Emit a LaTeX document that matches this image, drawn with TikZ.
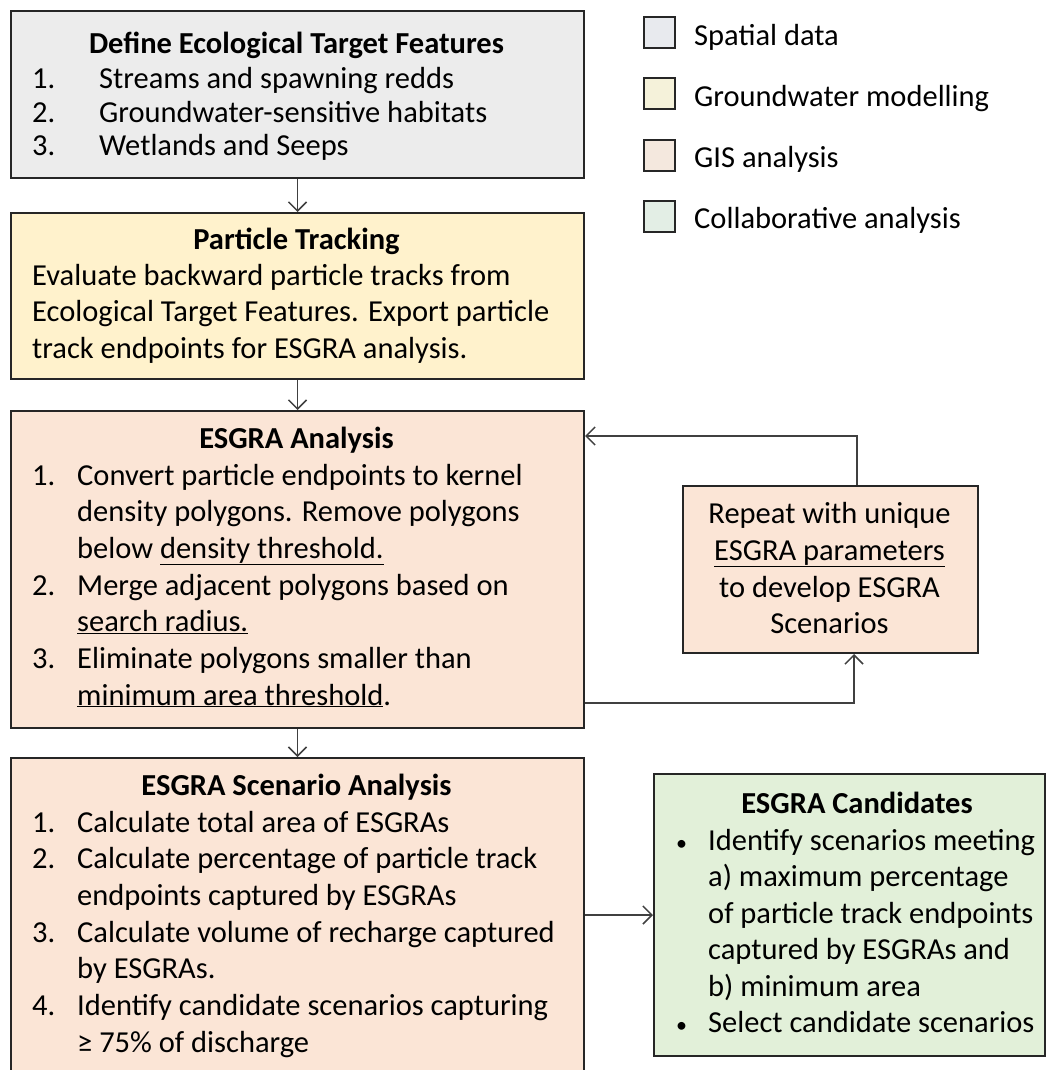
\documentclass[tikz,border=0pt]{standalone}
\usepackage{fontspec}
\setmainfont{Carlito}
\usetikzlibrary{arrows.meta}
\definecolor{boxgray}{HTML}{ECECEC}
\definecolor{boxyellow}{HTML}{FFF2CC}
\definecolor{boxpeach}{HTML}{FBE5D6}
\definecolor{boxgreen}{HTML}{E2F0D9}
\definecolor{legA}{HTML}{E8EAEE}
\definecolor{legB}{HTML}{F5F2DA}
\definecolor{legC}{HTML}{F4E8DE}
\definecolor{legD}{HTML}{E3EEE5}
\definecolor{linegray}{HTML}{404040}
\tikzset{
  box/.style={draw=black!85, line width=2pt, inner sep=0pt, anchor=north west},
  legsq/.style={draw=black!85, line width=2pt, inner sep=0pt, minimum size=31pt},
  txt/.style={inner sep=0pt, anchor=base west, font=\fontsize{30.5}{36.7}\selectfont},
  bul/.style={inner sep=0pt, anchor=base west, font=\fontsize{22}{36.7}\selectfont},
  ttl/.style={inner sep=0pt, anchor=base, font=\fontsize{30.5}{36.7}\selectfont\bfseries},
  ctr/.style={inner sep=0pt, anchor=base, font=\fontsize{30.5}{36.7}\selectfont},
  conn/.style={draw=linegray, line width=1.5pt, -{Straight Barb[length=9pt,width=18pt]}}
}
\begin{document}
\begin{tikzpicture}[x=1pt,y=-1pt]
\fill[white] (0,0) rectangle (1048,1070);
\useasboundingbox (0,0) rectangle (1048,1070);

% boxes
\node[box, fill=boxgray, minimum width=573pt, minimum height=167pt] (b1) at (10,10) {};
\node[box, fill=boxyellow, minimum width=573pt, minimum height=166pt] (b2) at (10,212) {};
\node[box, fill=boxpeach, minimum width=573pt, minimum height=317pt] (b3) at (10,410) {};
\node[box, fill=boxpeach, minimum width=573pt, minimum height=330pt] (b4) at (10,757) {};
\node[box, fill=boxpeach, minimum width=295pt, minimum height=167pt] (rep) at (682,485) {};
\node[box, fill=boxgreen, minimum width=391pt, minimum height=282pt] (cand) at (653,773) {};

% box 1 text
\node[ttl] (t1) at (296.5,54) {Define Ecological Target Features};
\node[txt] (n11) at (32,89) {1.};
\node[txt] (l11) at (99,89) {Streams and spawning redds};
\node[txt] (n12) at (32,122) {2.};
\node[txt] (l12) at (99,122) {Groundwater-sensitive habitats};
\node[txt] (n13) at (32,155) {3.};
\node[txt] (l13) at (99,155) {Wetlands and Seeps};

% box 2 text
\node[ttl] (t2) at (296.5,249) {Particle Tracking};
\node[txt] (l21) at (32,285) {Evaluate backward particle tracks from};
\node[txt] (l22) at (32,321.5) {Ecological Target Features. Export particle};
\node[txt] (l23) at (32,358) {track endpoints for ESGRA analysis.};

% box 3 text
\node[ttl] (t3) at (296.5,448) {ESGRA Analysis};
\node[txt] (n31) at (32,485) {1.};
\node[txt] (l31) at (77,485) {Convert particle endpoints to kernel};
\node[txt] (l32) at (77,521.5) {density polygons. Remove polygons};
\node[txt] (l33) at (77,558) {below \underline{density threshold.}};
\node[txt] (n32) at (32,595) {2.};
\node[txt] (l34) at (77,595) {Merge adjacent polygons based on};
\node[txt] (l35) at (77,631.5) {\underline{search radius.}};
\node[txt] (n33) at (32,668) {3.};
\node[txt] (l36) at (77,668) {Eliminate polygons smaller than};
\node[txt] (l37) at (77,705) {\underline{minimum area threshold}.};

% box 4 text
\node[ttl] (t4) at (296.5,795) {ESGRA Scenario Analysis};
\node[txt] (n41) at (32,832) {1.};
\node[txt] (l41) at (77,832) {Calculate total area of ESGRAs};
\node[txt] (n42) at (32,868.5) {2.};
\node[txt] (l42) at (77,868.5) {Calculate percentage of particle track};
\node[txt] (l43) at (77,905) {endpoints captured by ESGRAs};
\node[txt] (n43) at (32,942) {3.};
\node[txt] (l44) at (77,942) {Calculate volume of recharge captured};
\node[txt] (l45) at (77,978.5) {by ESGRAs.};
\node[txt] (n44) at (32,1015) {4.};
\node[txt] (l46) at (77,1015) {Identify candidate scenarios capturing};
\node[txt] (l47) at (77,1052) {≥ 75\% of discharge};

% repeat box text
\node[ctr] (r1) at (829.5,523) {Repeat with unique};
\node[ctr] (r2) at (829.5,560) {\underline{ESGRA parameters}};
\node[ctr] (r3) at (829.5,597) {to develop ESGRA};
\node[ctr] (r4) at (829.5,633) {Scenarios};

% candidates text
\node[ttl] (t5) at (857,813) {ESGRA Candidates};
\node[bul] (bu1) at (676,850) {•};
\node[txt] (c1l) at (708,850) {Identify scenarios meeting};
\node[txt] (c2l) at (708,886.5) {a) maximum percentage};
\node[txt] (c3l) at (708,923) {of particle track endpoints};
\node[txt] (c4l) at (708,959.5) {captured by ESGRAs and};
\node[txt] (c5l) at (708,996) {b) minimum area};
\node[bul] (bu2) at (676,1032) {•};
\node[txt] (c6l) at (708,1032) {Select candidate scenarios};

% legend
\node[legsq, fill=legA] (q1) at (659.5,33) {};
\node[txt] (q1t) at (694,46) {Spatial data};
\node[legsq, fill=legB] (q2) at (659.5,94) {};
\node[txt] (q2t) at (694,107) {Groundwater modelling};
\node[legsq, fill=legC] (q3) at (659.5,155) {};
\node[txt] (q3t) at (694,167) {GIS analysis};
\node[legsq, fill=legD] (q4) at (659.5,216) {};
\node[txt] (q4t) at (694,228) {Collaborative analysis};

% connectors
\draw[conn] (b1.south) -- (b2.north);
\draw[conn] (b2.south) -- (b3.north);
\draw[conn] (b3.south) -- (b4.north);
\coordinate (k1) at (857,436);
\draw[conn] (rep.north -| k1) -- (k1) -- (k1 -| b3.east);
\coordinate (k2) at (854,703);
\draw[conn] (k2 -| b3.east) -- (k2) -- (k2 |- rep.south);
\coordinate (k3) at (600,915);
\draw[conn] (k3 -| b4.east) -- (k3 -| cand.west);
\end{tikzpicture}
\end{document}
